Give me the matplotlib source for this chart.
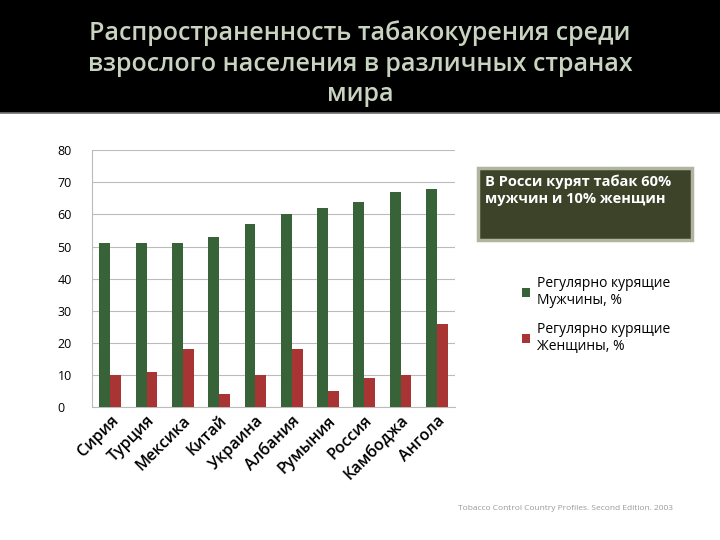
import matplotlib
matplotlib.use("Agg")
import matplotlib.pyplot as plt
import numpy as np
from matplotlib.patches import Rectangle, Patch

plt.rcParams['font.family'] = ['Open Sans', 'DejaVu Sans']

countries = ["Сирия", "Турция", "Мексика", "Китай", "Украина", "Албания", "Румыния", "Россия", "Камбоджа", "Ангола"]
men = [51, 51, 51, 53, 57, 60, 62, 64, 67, 68]
women = [10, 11, 18, 4, 10, 18, 5, 9, 10, 26]

fig = plt.figure(figsize=(7.2, 5.4), dpi=100)
fig.patches.append(Rectangle((0, 0.793), 1, 0.207, transform=fig.transFigure, color='black', zorder=0))
fig.lines.append(plt.Line2D([0, 1], [0.79, 0.79], transform=fig.transFigure, color='#777777', lw=1.2))
fig.text(0.5, 0.882, "Распространенность табакокурения среди\nвзрослого населения в различных странах\nмира",
         ha='center', va='center', color='#c8d4c0', fontsize=18, linespacing=1.3, fontweight='semibold',
         fontstretch='condensed')

ax = fig.add_axes([0.128, 0.246, 0.504, 0.476])
x = np.arange(len(countries))
w = 0.3
ax.bar(x - w/2, men, w, color='#386238', label="Регулярно курящие\nМужчины, %", zorder=3)
ax.bar(x + w/2, women, w, color='#a83434', label="Регулярно курящие\nЖенщины, %", zorder=3)
ax.set_xlim(-0.5, len(countries) - 0.5)
ax.set_ylim(0, 80)
ax.set_yticks(range(0, 81, 10))
ax.yaxis.grid(True, color='#bbbbbb', lw=0.8, zorder=0)
for s in ['top', 'right']:
    ax.spines[s].set_visible(False)
ax.spines['left'].set_color('#bbbbbb')
ax.spines['bottom'].set_color('#bbbbbb')
ax.tick_params(axis='y', length=0, labelsize=9, pad=25)
for lab in ax.get_yticklabels():
    lab.set_horizontalalignment('left')
ax.set_xticks(x)
ax.set_xticklabels(countries, rotation=45, ha='right', rotation_mode='anchor', fontsize=11.5, fontweight='semibold')
ax.tick_params(axis='x', length=0, pad=4)

ax.legend(loc='upper left', bbox_to_anchor=(1.15, 0.56), frameon=False, fontsize=10,
          handlelength=0.6, handleheight=0.6, labelspacing=1.0, handletextpad=0.5)

fig.patches.append(Rectangle((0.664, 0.555), 0.297, 0.134, transform=fig.transFigure,
                             facecolor='#3d4329', edgecolor='#b0b5a0', lw=2.5))
fig.text(0.674, 0.648, "В Росси курят табак 60%\nмужчин и 10% женщин", color='white',
         fontsize=10.5, fontweight='bold', va='center', ha='left', linespacing=1.3)

fig.text(0.785, 0.055, "Tobacco Control Country Profiles. Second Edition. 2003", ha='center',
         fontsize=6, color='#999999')

fig.savefig("out.png", dpi=100)
